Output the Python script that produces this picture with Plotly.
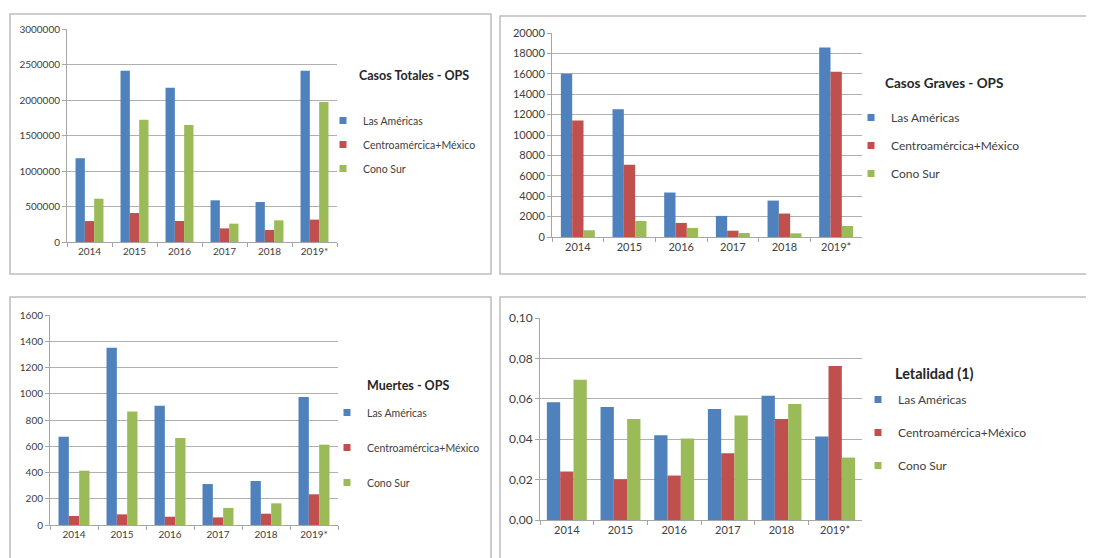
import plotly.graph_objects as go

years = ["2014", "2015", "2016", "2017", "2018", "2019*"]
series_names = ["Las Américas", "Centroamércica+México", "Cono Sur"]
colors = ["#4F81BD", "#C0504D", "#9BBB59"]

totales_americas = [1180000, 2413000, 2174000, 587000, 563000, 2413000]
totales_centro = [295000, 408000, 296000, 192000, 169000, 315000]
totales_cono = [610000, 1723000, 1648000, 258000, 305000, 1972000]

graves_americas = [16000, 12520, 4360, 2070, 3570, 18590]
graves_centro = [11410, 7080, 1380, 620, 2300, 16200]
graves_cono = [660, 1570, 890, 390, 360, 1080]

muertes_americas = [673, 1351, 909, 312, 335, 975]
muertes_centro = [69, 81, 63, 58, 86, 234]
muertes_cono = [414, 864, 663, 130, 165, 612]

letal_americas = [0.0583, 0.0559, 0.0420, 0.0550, 0.0615, 0.0413]
letal_centro = [0.0240, 0.0202, 0.0220, 0.0331, 0.0500, 0.0762]
letal_cono = [0.0694, 0.0500, 0.0403, 0.0517, 0.0574, 0.0309]

titles = ["Casos Totales - OPS", "Casos Graves - OPS", "Muertes - OPS", "Letalidad (1)"]

# The page body has an 8px margin; the figure is sized to fill the rest of the window.
OFF = 8
W, H = 1094 - OFF, 558 - OFF
FONT = "Lato, 'Open Sans', sans-serif"
TXT = "#404040"


def px(x):
    return (x - OFF) / W


def py(y):
    return 1 - (y - OFF) / H


panels = [
    dict(data=[totales_americas, totales_centro, totales_cono], x=(67, 337), y=(29, 242),
         rng=[0, 3000000], dtick=500000, fmt="d", ytick=10, xtick=10, leg=10.5, bw=0.207,
         title_xy=(357, 75), title_size=12.5, leg_xy=(323, 106), leg_gap=5),
    dict(data=[graves_americas, graves_centro, graves_cono], x=(552, 862), y=(33, 237),
         rng=[0, 20000], dtick=2000, fmt="d", ytick=11, xtick=11, leg=12, bw=0.219,
         title_xy=(883, 83), title_size=13.5, leg_xy=(851, 103), leg_gap=9),
    dict(data=[muertes_americas, muertes_centro, muertes_cono], x=(50, 338), y=(315, 525),
         rng=[0, 1600], dtick=200, fmt="d", ytick=10, xtick=10, leg=10.5, bw=0.215,
         title_xy=(365, 385), title_size=12.5, leg_xy=(327, 398), leg_gap=16),
    dict(data=[letal_americas, letal_centro, letal_cono], x=(540, 862), y=(318, 520),
         rng=[0, 0.1], dtick=0.02, fmt=".2f", ytick=12, xtick=11, leg=12, bw=0.248,
         title_xy=(893, 373), title_size=14.5, leg_xy=(858, 385), leg_gap=14),
]

fig = go.Figure()
layout = dict(
    width=W, height=H, margin=dict(l=0, r=0, t=0, b=0, autoexpand=False),
    paper_bgcolor="white", plot_bgcolor="white",
    separators=",.", barmode="overlay",
    font=dict(family=FONT, color=TXT),
    showlegend=True,
)
annotations = []
shapes = []

for i, p in enumerate(panels):
    n = "" if i == 0 else str(i + 1)
    xa, ya = "x" + n, "y" + n
    legname = "legend" + n
    bw = p["bw"]
    for j, (name, vals) in enumerate(zip(series_names, p["data"])):
        fig.add_trace(go.Bar(
            x=years, y=vals, name=name, marker_color=colors[j], marker_line_width=0,
            xaxis=xa, yaxis=ya, showlegend=False,
            width=bw, offset=-1.5 * bw + j * bw,
        ))
        # legend entry with a small square key, as in the original chart
        fig.add_trace(go.Scatter(
            x=[None], y=[None], mode="markers", name=name,
            marker=dict(symbol="square", size=7, color=colors[j]),
            xaxis=xa, yaxis=ya, legend=legname, legendgroup=f"p{i}s{j}",
            hoverinfo="skip",
        ))
    layout["xaxis" + n] = dict(
        domain=[px(p["x"][0]), px(p["x"][1])], anchor=ya, type="category",
        categoryorder="array", categoryarray=years, range=[-0.5, 5.5],
        showline=True, linecolor="#A6A6A6", linewidth=1,
        ticks="outside", tickson="boundaries", ticklen=4, tickcolor="#A6A6A6",
        tickfont=dict(size=p["xtick"], color=TXT, family=FONT), showgrid=False,
        automargin=False,
    )
    layout["yaxis" + n] = dict(
        domain=[py(p["y"][1]), py(p["y"][0])], anchor=xa, range=p["rng"],
        dtick=p["dtick"], tickformat=p["fmt"],
        showline=True, linecolor="#A6A6A6", linewidth=1,
        ticks="outside", ticklen=4, tickcolor="#A6A6A6",
        showgrid=True, gridcolor="#B0B0B0", gridwidth=1, zeroline=False,
        tickfont=dict(size=p["ytick"], color=TXT, family=FONT),
        automargin=False,
    )
    layout[legname] = dict(
        x=px(p["leg_xy"][0]), y=py(p["leg_xy"][1]), xanchor="left", yanchor="top",
        bgcolor="rgba(0,0,0,0)", font=dict(size=p["leg"], color=TXT, family=FONT),
        tracegroupgap=p["leg_gap"], itemwidth=30,
    )
    annotations.append(dict(
        x=px(p["title_xy"][0]), y=py(p["title_xy"][1]), xref="paper", yref="paper",
        xanchor="left", yanchor="middle", showarrow=False,
        text="<b>" + titles[i] + "</b>",
        font=dict(size=p["title_size"], color="#262626", family=FONT),
    ))

# Panel borders
boxes = [(10, 14, 491, 274), (500, 16, 1110, 274), (10, 297, 491, 580), (500, 297, 1110, 580)]
for x0, y0, x1, y1 in boxes:
    shapes.append(dict(type="rect", xref="paper", yref="paper",
                       x0=px(x0), x1=px(x1), y0=py(y1), y1=py(y0),
                       line=dict(color="#BDBDBD", width=1.5), fillcolor="rgba(0,0,0,0)", layer="below"))

layout["annotations"] = annotations
layout["shapes"] = shapes
fig.update_layout(**layout)
fig.write_html("out.html")
